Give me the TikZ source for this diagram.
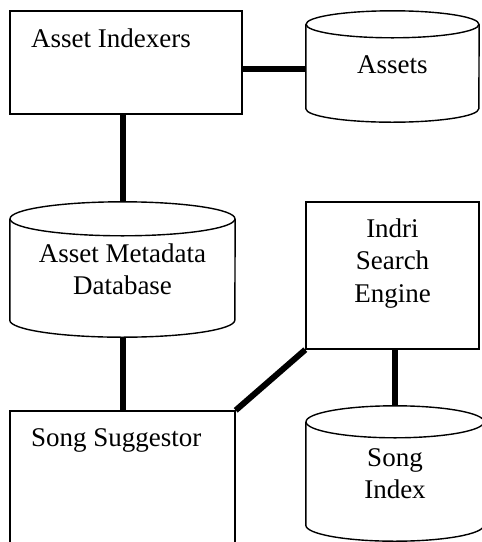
\documentclass[tikz,border=0pt]{standalone}
\usepackage{fontspec}
\setmainfont{Liberation Serif}
\usetikzlibrary{positioning, calc}

\tikzset{
  procbox/.style={rectangle, draw=black, line width=1.4pt},
  store/.style={rectangle, inner sep=0pt, align=center,
                font=\fontsize{27}{32.5}\selectfont},
  boxtext/.style={inner sep=0pt, align=center, font=\fontsize{27}{32.5}\selectfont},
  link/.style={draw=black, line width=6pt}
}

% drum outline round a store node: name, half width, ellipse radius
\newcommand\drum[3]{%
  \draw[line width=1.4pt] ($(#1.north)+(0,-#3)$) ellipse [x radius=#2, y radius=#3];
  \draw[line width=1.4pt] ($(#1.north west)+(0,-#3)$) -- ($(#1.south west)+(0,#3)$)
    arc[start angle=180, end angle=360, x radius=#2, y radius=#3]
    -- ($(#1.north east)+(0,-#3)$);
}

\begin{document}
\begin{tikzpicture}[x=1pt, y=-1pt]
\useasboundingbox (0,0) rectangle (482,542);

% Boxes and stores
\node[procbox, minimum width=232pt, minimum height=103pt] (indexers) at (126,62.5) {};
\node[store, minimum width=173pt, minimum height=111pt] (assets) at (392.5,66.5)
      {\raisebox{4pt}{Assets}};
\node[store, minimum width=225pt, minimum height=135pt] (metadb) at (122.5,269.5)
      {Asset Metadata\\Database};
\node[procbox, minimum width=173pt, minimum height=147pt] (indri) at (392.5,275.5) {};
\node[procbox, minimum width=225pt, minimum height=200pt] (suggestor) at (122.5,511) {};
\node[store, minimum width=178pt, minimum height=135pt] (songidx) at (395,473.5)
      {Song\\Index};

\drum{assets}{86.5pt}{13.5pt}
\drum{metadb}{112.5pt}{17pt}
\drum{songidx}{89pt}{16pt}

% Box captions
\node[boxtext, anchor=west] (indexerstext) at (31,38) {Asset Indexers};
\node[boxtext, below=17pt of indri.north] (indritext) {Indri\\Search\\Engine};
\node[boxtext, anchor=west] (suggestortext) at (31,440) {Song Suggestor};

% Links
\draw[link] (indexers.east |- 0,69) -- (assets.west |- 0,69);
\draw[link] (metadb.north |- indexers.south) -- (metadb.north);
\draw[link] (metadb.south) -- (metadb.south |- suggestor.north);
\draw[link] (suggestor.north east) -- (indri.south west);
\draw[link] (indri.south -| songidx.north) -- (songidx.north);

\end{tikzpicture}
\end{document}
